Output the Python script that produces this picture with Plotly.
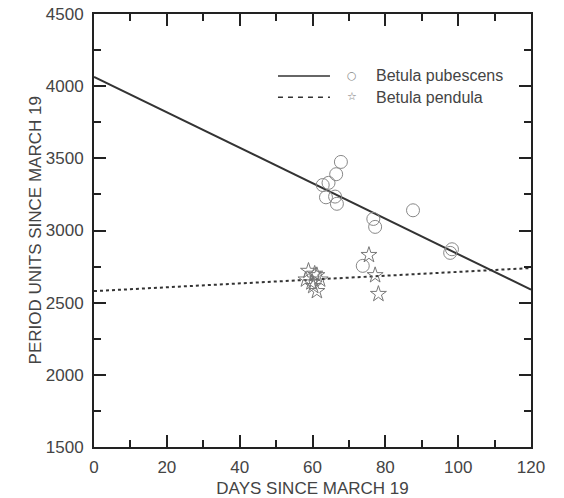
import plotly.graph_objects as go

# Data
pub_x = [67.8, 66.5, 64.4, 62.8, 63.7, 66.2, 66.7, 87.6, 76.7, 77.2, 73.8, 98.3, 97.8]
pub_y = [3475, 3390, 3330, 3315, 3230, 3235, 3185, 3140, 3080, 3025, 2755, 2870, 2845]
pen_x = [75.5, 77.2, 78.1, 58.9, 58.2, 61.2, 60.2, 61.2, 62.1, 59.7, 60.6]
pen_y = [2830, 2690, 2560, 2720, 2660, 2690, 2615, 2580, 2660, 2640, 2700]
fit_x = [0, 120]
pub_fit = [4065, 2590]
pen_fit = [2580, 2740]

x_ticks = [0, 20, 40, 60, 80, 100, 120]
y_ticks = [1500, 2000, 2500, 3000, 3500, 4000, 4500]

font = "Liberation Sans, Arial, sans-serif"
txt = "#444444"

fig = go.Figure()
fig.add_trace(go.Scatter(x=fit_x, y=pub_fit, mode="lines",
                         line=dict(color="#333333", width=2), showlegend=False))
fig.add_trace(go.Scatter(x=fit_x, y=pen_fit, mode="lines",
                         line=dict(color="#333333", width=2, dash="dot"), showlegend=False))
fig.add_trace(go.Scatter(x=pub_x, y=pub_y, mode="markers",
                         marker=dict(symbol="circle-open", size=13, color="#888888",
                                     line=dict(width=1)), showlegend=False))
fig.add_trace(go.Scatter(x=pen_x, y=pen_y, mode="markers",
                         marker=dict(symbol="star-open", size=12, color="#777777",
                                     line=dict(width=1)), showlegend=False))

axis_common = dict(showline=True, linecolor="#222222", linewidth=2, mirror="allticks",
                   ticks="inside", tickcolor="#222222", tickwidth=2, ticklen=12,
                   showgrid=False, zeroline=False, automargin=False,
                   tickfont=dict(family=font, size=17, color=txt))
fig.update_xaxes(range=[0, 120], tickvals=x_ticks, ticklabelstandoff=4,
                 minor=dict(dtick=10, ticks="inside", ticklen=7, tickwidth=2, tickcolor="#222222"),
                 title=dict(text="DAYS SINCE MARCH 19", font=dict(family=font, size=17, color=txt)),
                 **axis_common)
fig.update_yaxes(range=[1500, 4500], tickvals=y_ticks, ticklabelstandoff=5,
                 minor=dict(dtick=250, ticks="inside", ticklen=7, tickwidth=2, tickcolor="#222222"),
                 **axis_common)

# y-axis title
fig.add_annotation(xref="paper", yref="paper", x=-0.133, y=0.5, text="PERIOD UNITS SINCE MARCH 19",
                   textangle=-90, showarrow=False, xanchor="center", yanchor="middle",
                   font=dict(family=font, size=17, color=txt))

# legend drawn manually
fig.add_shape(type="line", xref="paper", yref="paper", x0=0.421, x1=0.540, y0=0.857, y1=0.857,
              line=dict(color="#333333", width=1.5))
fig.add_shape(type="line", xref="paper", yref="paper", x0=0.421, x1=0.540, y0=0.808, y1=0.808,
              line=dict(color="#333333", width=1.5, dash="5px,5px"))
fig.add_annotation(xref="paper", yref="paper", x=0.590, y=0.859, text="○", showarrow=False,
                   xanchor="center", yanchor="middle",
                   font=dict(family="DejaVu Sans", size=11, color="#888888"))
fig.add_annotation(xref="paper", yref="paper", x=0.590, y=0.810, text="☆", showarrow=False,
                   xanchor="center", yanchor="middle",
                   font=dict(family="DejaVu Sans", size=11, color="#777777"))
fig.add_annotation(xref="paper", yref="paper", x=0.640, y=0.857, text="Betula pubescens",
                   showarrow=False, xanchor="left", yanchor="middle",
                   font=dict(family=font, size=16, color=txt))
fig.add_annotation(xref="paper", yref="paper", x=0.640, y=0.808, text="Betula pendula",
                   showarrow=False, xanchor="left", yanchor="middle",
                   font=dict(family=font, size=16, color=txt))

fig.update_layout(width=564, height=498, margin=dict(l=94, r=33, t=14, b=51),
                  plot_bgcolor="white", paper_bgcolor="white")
fig.write_html("out.html")
